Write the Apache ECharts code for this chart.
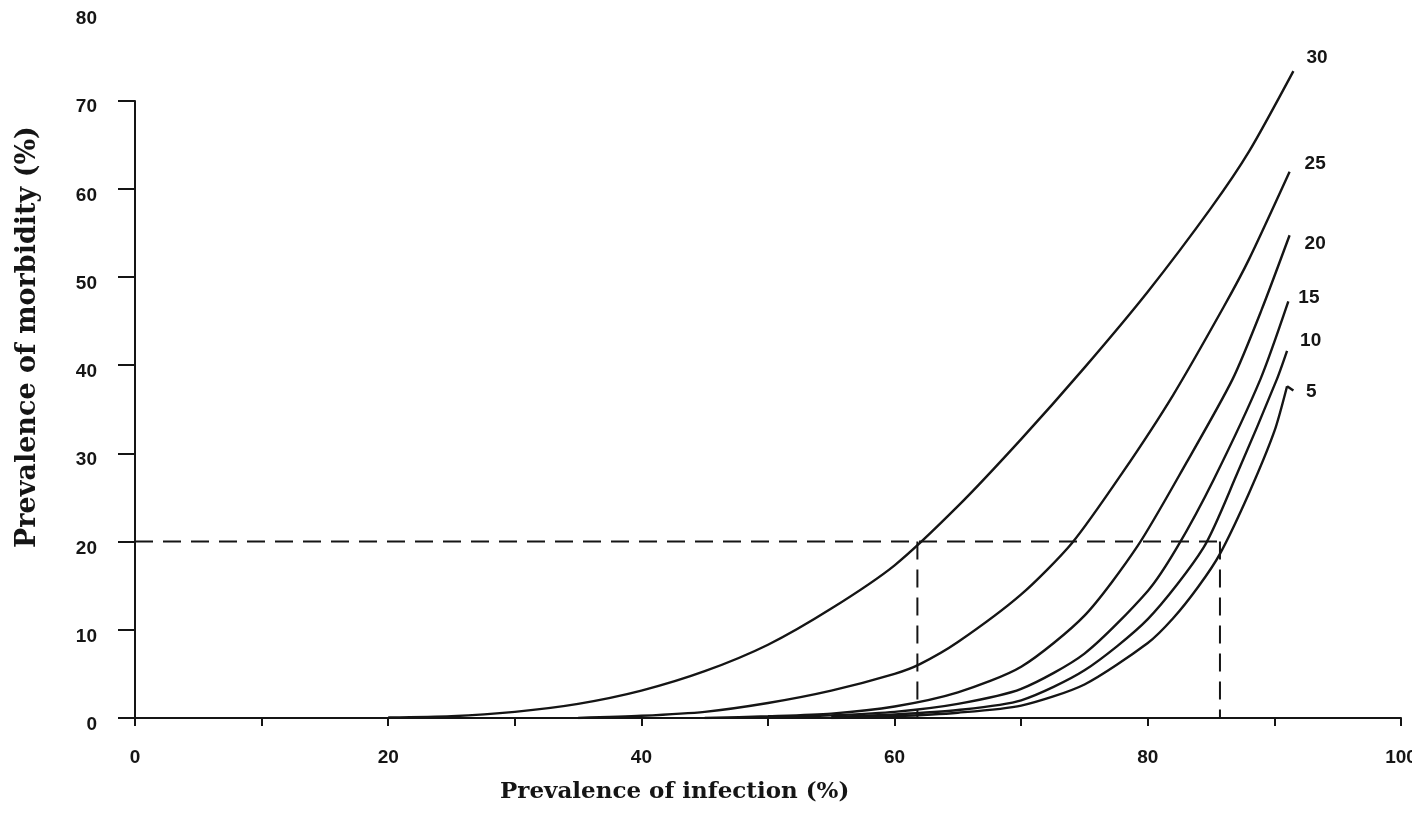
<!DOCTYPE html>
<html>
<head>
<meta charset="utf-8">
<script src="https://cdn.jsdelivr.net/npm/echarts@6/dist/echarts.min.js"></script>
<style>
  html, body { margin: 0; padding: 0; background: #fff; }
  #chart { width: 1412px; height: 821px; }
</style>
</head>
<body>
<div id="chart"></div>
<script>
// Axis tick labels
const xTickLabels = [0, 20, 40, 60, 80, 100];
const yTickLabels = [0, 10, 20, 30, 40, 50, 60, 70, 80];
const yTickMarks = [0, 10, 20, 30, 40, 50, 60, 70];

// Curve names (shown at the end of each curve)
const curveNames = ['30', '25', '20', '15', '10', '5'];

// Prevalence of morbidity (%) against prevalence of infection (%), one curve each
const curve30 = [[20, 0.05], [25, 0.2], [30, 0.7], [35, 1.6], [40, 3.1], [45, 5.3], [50, 8.3], [55, 12.4],
  [60, 17.3], [65, 24.0], [70, 31.6], [75, 39.7], [80, 48.3], [85, 57.8], [88, 64.2], [91.5, 73.3]];
const curve25 = [[35, 0], [40, 0.25], [45, 0.7], [50, 1.7], [55, 3.1], [60, 5.0], [62, 6.1], [65, 8.6],
  [70, 14.0], [74, 19.8], [78, 27.8], [82, 36.6], [86, 46.6], [88, 52.0], [91.2, 61.9]];
const curve20 = [[45, 0], [50, 0.2], [55, 0.5], [60, 1.3], [65, 2.9], [70, 5.8], [75, 11.6], [79.2, 19.5],
  [83, 28.8], [86.7, 38.4], [89, 46.3], [91.2, 54.7]];
const curve15 = [[50, 0.05], [55, 0.3], [60, 0.7], [65, 1.6], [70, 3.3], [75, 7.3], [80, 14.4], [82.3, 19.3],
  [85.2, 27.0], [88.9, 38.4], [91.1, 47.2]];
const curve10 = [[55, 0.1], [60, 0.4], [65, 0.9], [70, 2.0], [75, 5.4], [80, 11.2], [84.4, 19.3], [87, 27.5],
  [90.2, 38.4], [91, 41.6]];
const curve5 = [[55, 0], [60, 0.2], [65, 0.6], [70, 1.4], [75, 3.8], [80, 8.5], [82, 11.3], [84, 14.9],
  [85.7, 18.6], [88, 25.5], [90, 32.5], [91, 37.6]];
// short end flick on the lowest curve
const curve5Tip = [[91, 37.6], [91.5, 37.1]];

// Reference level and the two readings taken from it
const refMorbidity = 20;
const refInfection = [61.8, 85.7];

const curves = [curve30, curve25, curve20, curve15, curve10, curve5];
// label offsets [dx, dy] in px relative to each curve end
const endLabelOffsets = [[5, -13], [7, -8], [7, 8], [2, -4], [5, -10], [11, 6]];

const ink = '#151515';
const tickFont = { color: ink, fontFamily: 'Liberation Sans, Arial, sans-serif', fontWeight: 'bold', fontSize: 19 };

const series = curves.map((data, i) => ({
  name: curveNames[i],
  type: 'line',
  data: data,
  showSymbol: false,
  smooth: 0.25,
  lineStyle: { color: ink, width: 2.4 },
  endLabel: {
    show: true,
    formatter: '{a}',
    offset: endLabelOffsets[i],
    ...tickFont
  },
  silent: true
}));

series.push({
  type: 'line',
  data: curve5Tip,
  showSymbol: false,
  lineStyle: { color: ink, width: 2.4 },
  silent: true
});

// vertical axis line, drawn up to 70 only
series.push({
  type: 'line',
  data: [[0, 0], [0, 70]],
  showSymbol: false,
  lineStyle: { color: ink, width: 2 },
  silent: true
});

// dashed reading lines
const dashed = { color: ink, width: 2, type: [18, 10] };
series.push({
  type: 'line',
  data: [[0, refMorbidity], [refInfection[1], refMorbidity]],
  showSymbol: false,
  lineStyle: dashed,
  silent: true
});
refInfection.forEach(x => {
  series.push({
    type: 'line',
    data: [[x, refMorbidity], [x, 0]],
    showSymbol: false,
    lineStyle: dashed,
    silent: true
  });
});

const chart = echarts.init(document.getElementById('chart'), null, { renderer: 'canvas' });
chart.setOption({
  animation: false,
  backgroundColor: '#fff',
  grid: { left: 135, right: 11, top: 12, bottom: 103, containLabel: false, outerBoundsMode: 'none' },
  xAxis: {
    type: 'value',
    min: 0,
    max: 100,
    interval: 10,
    axisLine: { show: true, onZero: false, lineStyle: { color: ink, width: 2 } },
    axisTick: { show: true, length: 8, lineStyle: { color: ink, width: 2 } },
    axisLabel: { customValues: xTickLabels, margin: 30, ...tickFont },
    splitLine: { show: false }
  },
  yAxis: {
    type: 'value',
    min: 0,
    max: 80,
    interval: 10,
    axisLine: { show: false },
    axisTick: { show: true, length: 17, customValues: yTickMarks, lineStyle: { color: ink, width: 2 } },
    axisLabel: { customValues: yTickLabels, margin: 38, verticalAlign: 'top', lineHeight: 14, ...tickFont },
    splitLine: { show: false }
  },
  graphic: [
    {
      type: 'text',
      left: 500,
      top: 781,
      style: {
        text: 'Prevalence of infection (%)',
        fill: ink,
        font: 'bold 23px "DejaVu Serif", serif'
      }
    },
    {
      type: 'text',
      x: 14,
      y: 548,
      rotation: Math.PI / 2,
      style: {
        text: 'Prevalence of morbidity (%)',
        fill: ink,
        font: 'bold 27px "DejaVu Serif", serif'
      }
    }
  ],
  series: series
});
</script>
</body>
</html>
